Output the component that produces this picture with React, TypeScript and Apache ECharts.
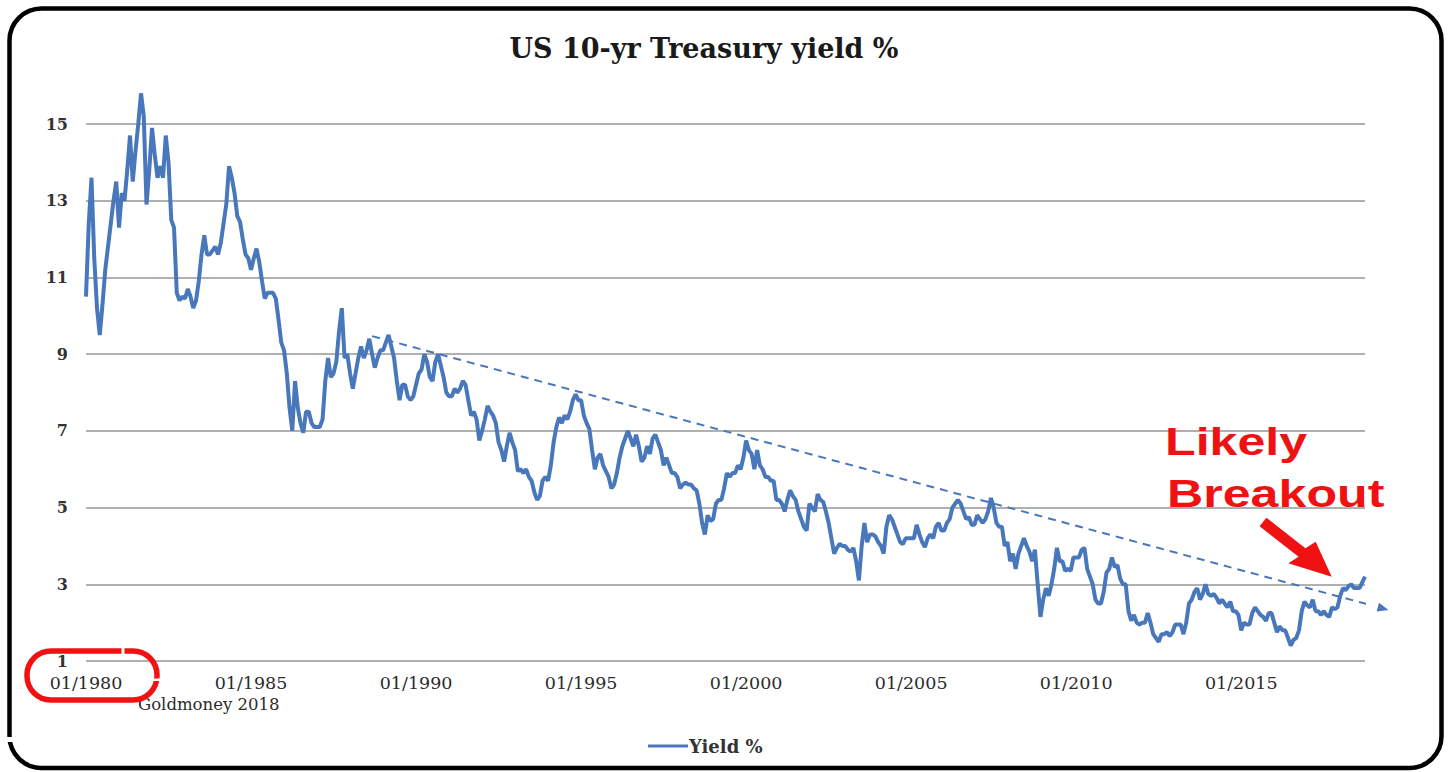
import React, { useEffect, useRef } from "react";
import * as echarts from "echarts";

// Monthly US 10-yr Treasury yield (%)
const startYear = 1980;
const yields1980s = [
  10.5, 12.4, 13.6, 11.5, 10.2, 9.5, 10.3, 11.2, 11.8, 12.4, 13.0, 13.5,
  12.3, 13.2, 13.0, 13.8, 14.7, 13.5, 14.3, 15.0, 15.8, 15.2, 12.9, 13.8,
  14.9, 14.2, 13.6, 13.9, 13.6, 14.7, 14.0, 12.5, 12.3, 10.6, 10.4, 10.5,
  10.45, 10.7, 10.5, 10.2, 10.4, 10.9, 11.6, 12.1, 11.6, 11.6, 11.7, 11.8,
  11.6, 11.9, 12.4, 12.9, 13.9, 13.6, 13.2, 12.6, 12.45, 12.0, 11.6, 11.5,
  11.2, 11.5, 11.75, 11.4, 10.9, 10.45, 10.6, 10.6, 10.6, 10.45, 9.9, 9.3,
  9.1, 8.5, 7.6, 7.0, 8.3, 7.6, 7.2, 6.95, 7.5, 7.5, 7.2, 7.1,
  7.1, 7.1, 7.3, 8.3, 8.9, 8.4, 8.5, 8.8, 9.6, 10.2, 8.9, 9.0,
  8.5, 8.1, 8.5, 8.9, 9.2, 8.9, 9.1, 9.4, 9.0, 8.65, 8.9, 9.1,
  9.1, 9.3, 9.5, 9.2, 8.9, 8.3, 7.8, 8.2, 8.2, 7.9, 7.8, 7.9,
];
const yields1990s = [
  8.2, 8.5, 8.6, 9.0, 8.8, 8.4, 8.3, 8.8, 9.0, 8.7, 8.4, 8.0,
  7.9, 7.9, 8.1, 8.0, 8.1, 8.3, 8.2, 7.8, 7.4, 7.5, 7.3, 6.75,
  7.0, 7.3, 7.65, 7.5, 7.4, 7.2, 6.7, 6.5, 6.2, 6.6, 6.95, 6.7,
  6.5, 5.95, 6.0, 5.9, 6.0, 5.8, 5.7, 5.4, 5.2, 5.3, 5.7, 5.8,
  5.7, 6.1, 6.7, 7.1, 7.35, 7.2, 7.4, 7.3, 7.5, 7.8, 7.95, 7.8,
  7.8, 7.4, 7.2, 7.05, 6.5, 6.0, 6.3, 6.4, 6.1, 5.95, 5.8, 5.5,
  5.6, 5.9, 6.3, 6.6, 6.8, 7.0, 6.8, 6.6, 6.9, 6.6, 6.2, 6.3,
  6.6, 6.4, 6.8, 6.9, 6.7, 6.5, 6.1, 6.3, 6.1, 5.9, 5.9, 5.8,
  5.5, 5.6, 5.65, 5.6, 5.6, 5.5, 5.45, 5.1, 4.6, 4.3, 4.8, 4.65,
  4.7, 5.1, 5.2, 5.2, 5.5, 5.9, 5.8, 5.9, 5.9, 6.1, 6.0, 6.3,
];
const yields2000s = [
  6.75, 6.5, 6.4, 6.0, 6.5, 6.1, 6.0, 5.8, 5.8, 5.7, 5.7, 5.2,
  5.2, 5.1, 4.9, 5.2, 5.45, 5.3, 5.2, 4.9, 4.7, 4.5, 4.4, 5.1,
  5.0, 4.9, 5.35, 5.2, 5.15, 4.9, 4.6, 4.2, 3.8, 3.95, 4.05, 4.0,
  4.0, 3.9, 3.85, 3.95, 3.6, 3.1, 4.0, 4.6, 4.1, 4.3, 4.3, 4.25,
  4.1, 4.0, 3.8, 4.5, 4.8, 4.7, 4.5, 4.3, 4.1, 4.05, 4.2, 4.2,
  4.2, 4.2, 4.55, 4.3, 4.1, 3.97, 4.2, 4.3, 4.2, 4.5, 4.6, 4.4,
  4.4, 4.6, 4.7, 5.0, 5.1, 5.2, 5.1, 4.9, 4.7, 4.75, 4.55, 4.55,
  4.8, 4.7, 4.6, 4.7, 4.9, 5.25, 5.0, 4.6, 4.5, 4.5, 4.0, 4.1,
  3.6, 3.8, 3.4, 3.8, 4.0, 4.2, 4.0, 3.85, 3.6, 3.9, 3.0, 2.15,
  2.6, 2.9, 2.7, 3.0, 3.4, 3.95, 3.6, 3.6, 3.35, 3.4, 3.35, 3.7,
];
const yields2010s = [
  3.7, 3.7, 3.9, 3.95, 3.4, 3.2, 3.0, 2.6, 2.5, 2.5, 2.8, 3.3,
  3.4, 3.7, 3.45, 3.5, 3.15, 3.0, 3.0, 2.3, 2.05, 2.2, 2.0, 1.95,
  2.0, 2.0, 2.25, 2.0, 1.7, 1.6, 1.5, 1.7, 1.7, 1.75, 1.65, 1.75,
  1.95, 1.95, 1.95, 1.7, 2.0, 2.5, 2.6, 2.8, 2.9, 2.6, 2.75, 3.0,
  2.75, 2.7, 2.75, 2.65, 2.5, 2.6, 2.5, 2.4, 2.55, 2.3, 2.3, 2.2,
  1.8, 2.0, 1.95, 1.95, 2.25, 2.4, 2.3, 2.2, 2.15, 2.05, 2.25, 2.25,
  2.0, 1.75, 1.9, 1.8, 1.8, 1.6, 1.4, 1.55, 1.6, 1.8, 2.3, 2.55,
  2.45, 2.4, 2.6, 2.3, 2.3, 2.2, 2.3, 2.2, 2.15, 2.4, 2.35, 2.4,
  2.7, 2.9, 2.85, 2.95, 3.0, 2.9, 2.9, 2.9, 3.05, 3.2,
];

// Dashed trend line (decimal year, yield %)
const trendStart = [1988.67, 9.47];
const trendEnd = [2019.3, 2.37];

// Axis ranges / ticks
const xMin = 1980;
const xMax = 2018.75;
const xInterval = 5;
const yMin = 1;
const yMax = 17;
const yInterval = 2;

const seriesName = "Yield %";
const titleText = "US 10-yr Treasury yield %";
const sourceText = "Goldmoney 2018";
const calloutLines = ["Likely", "Breakout"];

const BLUE = "#4878bb";
const RED = "#f01212";
const SERIF = "DejaVu Serif";

export default function App() {
  const ref = useRef<HTMLDivElement>(null);

  useEffect(() => {
    if (!ref.current) return;
    const chart = echarts.init(ref.current, undefined, { renderer: "svg" });
    const all = [...yields1980s, ...yields1990s, ...yields2000s, ...yields2010s];
    const data = all.map((v, i) => [startYear + i / 12, v]);

    chart.setOption({
      animation: false,
      backgroundColor: "#ffffff",
      grid: {
        left: 86,
        right: 85,
        top: 47.3,
        bottom: 111,
        containLabel: false,
        outerBoundsMode: "none",
      },
      legend: {
        data: [{ name: seriesName, icon: "rect" }],
        left: 643,
        top: 732,
        itemWidth: 40,
        itemHeight: 3,
        textStyle: {
          fontFamily: SERIF,
          fontWeight: "bold",
          fontSize: 18,
          color: "#333333",
          padding: [0, 0, 0, -4],
        },
      },
      xAxis: {
        type: "value",
        min: xMin,
        max: xMax,
        interval: xInterval,
        axisLine: { show: false },
        axisTick: { show: false },
        splitLine: { show: false },
        axisLabel: {
          margin: 13,
          fontFamily: SERIF,
          fontSize: 17.5,
          color: "#2b2b2b",
          formatter: (v: number) =>
            Math.abs(v % 5) < 1e-6 ? "01/" + Math.round(v) : "",
        },
      },
      yAxis: {
        type: "value",
        min: yMin,
        max: yMax,
        interval: yInterval,
        axisLine: { show: false },
        axisTick: { show: false },
        splitLine: {
          show: true,
          showMaxLine: false,
          lineStyle: { color: "#b0b0b0", width: 2 },
        },
        axisLabel: {
          margin: 18,
          fontFamily: SERIF,
          fontWeight: "bold",
          fontSize: 16,
          color: "#333333",
          formatter: (v: number) => (v >= yMax ? "" : String(v)),
        },
      },
      series: [
        {
          name: seriesName,
          type: "line",
          data,
          showSymbol: false,
          symbol: "none",
          lineStyle: { color: BLUE, width: 4 },
          itemStyle: { color: BLUE },
          z: 3,
        },
        {
          name: "trend",
          type: "line",
          clip: false,
          showSymbol: true,
          data: [
            { value: trendStart, symbol: "none" },
            {
              value: trendEnd,
              symbol: "triangle",
              symbolSize: [9, 11],
              symbolRotate: -105,
            },
          ],
          lineStyle: { color: BLUE, width: 2, type: [8, 6] },
          itemStyle: { color: BLUE },
          z: 2,
        },
      ],
      graphic: [
        {
          type: "rect",
          shape: { x: 9.5, y: 8.5, width: 1432, height: 759.5, r: 32 },
          style: { fill: "none", stroke: "#000000", lineWidth: 4.5 },
          z: 10,
        },
        {
          type: "rect",
          shape: { x: 4, y: 737, width: 12, height: 5 },
          style: { fill: "#ffffff" },
          z: 11,
        },
        {
          type: "text",
          x: 704,
          y: 48,
          style: {
            text: titleText,
            fontFamily: SERIF,
            fontWeight: "bold",
            fontSize: 27,
            fill: "#1a1a1a",
            textAlign: "center",
            textVerticalAlign: "middle",
          },
        },
        {
          type: "text",
          x: 138,
          y: 704,
          style: {
            text: sourceText,
            fontFamily: SERIF,
            fontSize: 16.5,
            fill: "#2b2b2b",
            textAlign: "left",
            textVerticalAlign: "middle",
          },
        },
        {
          type: "rect",
          shape: { x: 27, y: 651, width: 130, height: 49, r: 24 },
          style: { fill: "none", stroke: RED, lineWidth: 5.5 },
          z: 12,
        },
        {
          type: "rect",
          shape: { x: 121.5, y: 646, width: 3, height: 10 },
          style: { fill: "#ffffff" },
          z: 13,
        },
        {
          type: "rect",
          shape: { x: 151, y: 678.5, width: 12, height: 2.5 },
          style: { fill: "#ffffff" },
          z: 13,
        },
        {
          type: "text",
          x: 1165,
          y: 442,
          scaleX: 1.32,
          style: {
            text: calloutLines[0],
            x: 0,
            y: 0,
            fontFamily: "Liberation Sans",
            fontWeight: "bold",
            fontSize: 38,
            fill: RED,
            textAlign: "left",
            textVerticalAlign: "middle",
          },
          z: 12,
        },
        {
          type: "text",
          x: 1167,
          y: 494,
          scaleX: 1.32,
          style: {
            text: calloutLines[1],
            x: 0,
            y: 0,
            fontFamily: "Liberation Sans",
            fontWeight: "bold",
            fontSize: 38,
            fill: RED,
            textAlign: "left",
            textVerticalAlign: "middle",
          },
          z: 12,
        },
        {
          type: "polygon",
          shape: {
            points: [
              [1266.4, 517.7],
              [1305.4, 548.2],
              [1315.7, 541.7],
              [1331.7, 576.7],
              [1288.3, 563.3],
              [1298.6, 556.8],
              [1259.6, 526.3],
            ],
          },
          style: { fill: RED },
          z: 12,
        },
      ],
    });

    return () => chart.dispose();
  }, []);

  return (
    <div
      ref={ref}
      style={{ position: "fixed", left: 0, top: 0, width: 1450, height: 772 }}
    />
  );
}
